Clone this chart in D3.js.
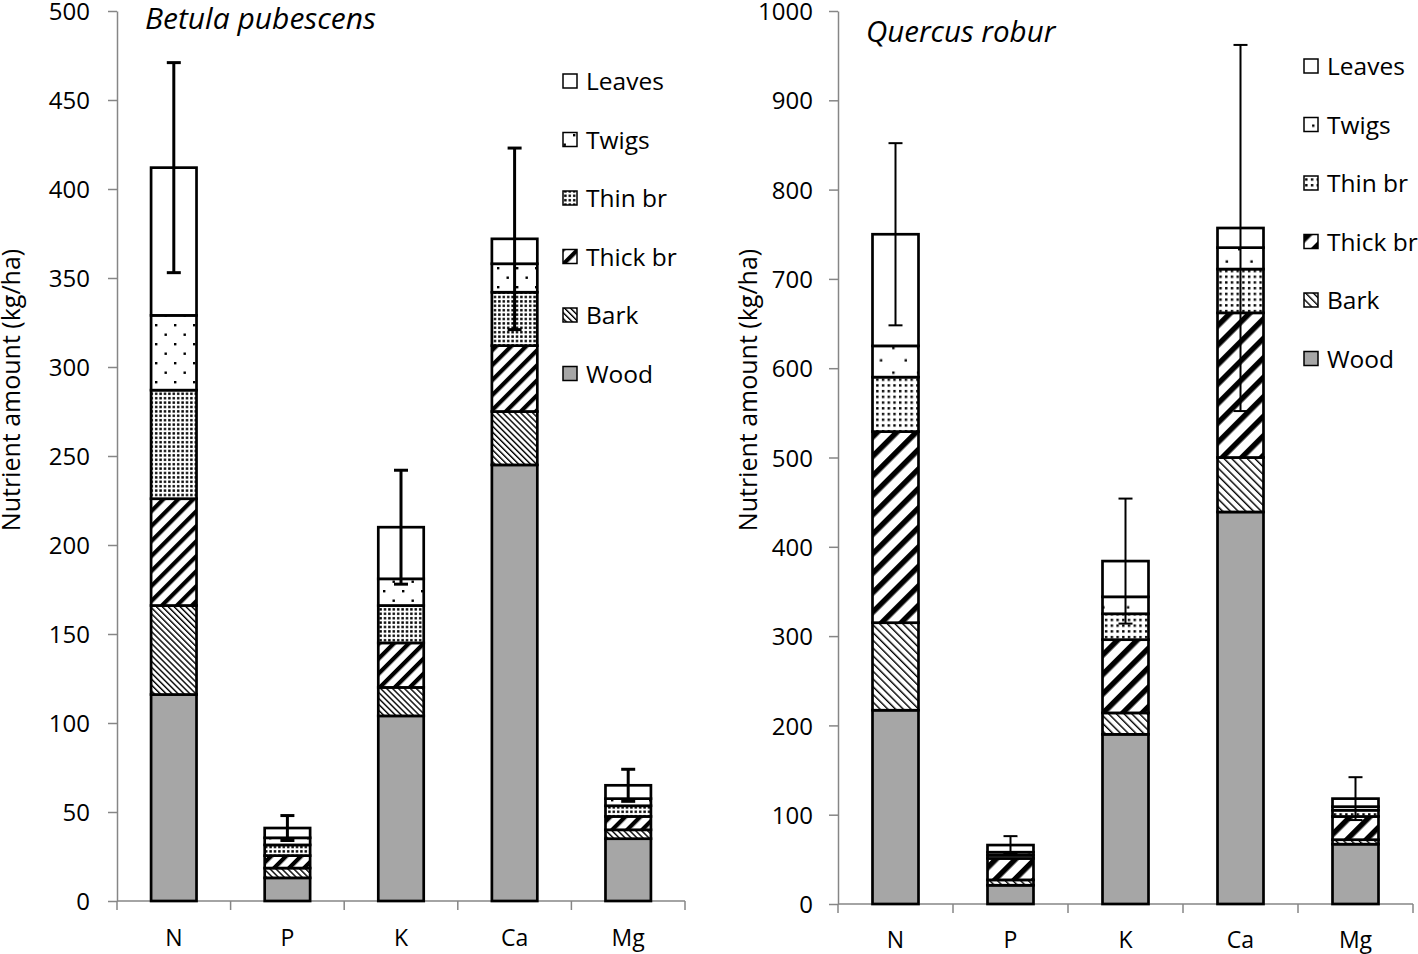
<!DOCTYPE html>
<html><head><meta charset="utf-8">
<script src="https://cdn.jsdelivr.net/npm/d3@7"></script>
<style>body{margin:0;background:#fff}svg{display:block}text{font-family:"Open Sans",sans-serif;fill:#000}</style>
</head><body>
<script>
const categories = ["N","P","K","Ca","Mg"];
const parts = ["Wood","Bark","Thick br","Thin br","Twigs","Leaves"];
const legendOrder = ["Leaves","Twigs","Thin br","Thick br","Bark","Wood"];
const betulaTicks = [0,50,100,150,200,250,300,350,400,450,500];
const quercusTicks = [0,100,200,300,400,500,600,700,800,900,1000];

const betulaWood   = [116, 13, 104, 245, 35];
const betulaBark   = [50, 5.5, 16, 30, 5];
const betulaThick  = [60, 7, 25, 37, 7.5];
const betulaThin   = [61, 6, 21, 30, 6];
const betulaTwigs  = [42, 4, 15, 16, 4];
const betulaLeaves = [83, 5.5, 29, 14, 7.5];
const betulaError  = [59, 7, 32, 51, 9];

const quercusWood   = [217, 21, 190, 439, 67];
const quercusBark   = [98, 6, 24, 61, 5];
const quercusThick  = [214, 24, 82, 162, 26];
const quercusThin   = [61, 3.5, 29, 49, 7];
const quercusTwigs  = [35, 3.5, 19, 24, 4];
const quercusLeaves = [125, 8, 40, 22, 9];
const quercusError  = [102, 10, 70, 205, 24];

function buildTable(arrs, err){
  return categories.map((c,i)=>{
    const row = {cat:c, err:err[i]};
    parts.forEach((p,j)=> row[p] = arrs[j][i]);
    return row;
  });
}

const svg = d3.select("body").append("svg").attr("width",1418).attr("height",954);
const defs = svg.append("defs");

function makePatterns(prefix, s){
  // Twigs: sparse staggered dots
  const tw = 19*s;
  let p = defs.append("pattern").attr("id",prefix+"twigs").attr("patternUnits","userSpaceOnUse")
    .attr("width",tw).attr("height",tw).attr("x",3).attr("y",1);
  p.append("rect").attr("width",tw).attr("height",tw).attr("fill","#fff");
  p.append("rect").attr("x",0).attr("y",0).attr("width",2.4).attr("height",2.4).attr("fill","#000");
  p.append("rect").attr("x",tw/2).attr("y",tw/2).attr("width",2.4).attr("height",2.4).attr("fill","#000");
  // Thin br: dense dots
  p = defs.append("pattern").attr("id",prefix+"thin").attr("patternUnits","userSpaceOnUse")
    .attr("width",4.4*s).attr("height",4.4*s);
  p.append("rect").attr("width",4.4*s).attr("height",4.4*s).attr("fill","#fff");
  p.append("rect").attr("x",1).attr("y",1).attr("width",2.4).attr("height",2.4).attr("fill","#000");
  // Thick br: wide "/" stripes
  const tp = 10.6*s;
  p = defs.append("pattern").attr("id",prefix+"thick").attr("patternUnits","userSpaceOnUse")
    .attr("width",tp).attr("height",tp).attr("patternTransform","rotate(45)");
  p.append("rect").attr("width",tp).attr("height",tp).attr("fill","#fff");
  p.append("rect").attr("width",4.2*s).attr("height",tp).attr("fill","#000");
  // Bark: thin "\" lines
  const bp = 4.2*s;
  p = defs.append("pattern").attr("id",prefix+"bark").attr("patternUnits","userSpaceOnUse")
    .attr("width",bp).attr("height",bp).attr("patternTransform","rotate(-45)");
  p.append("rect").attr("width",bp).attr("height",bp).attr("fill","#fff");
  p.append("rect").attr("width",1.4).attr("height",bp).attr("fill","#000");
}
makePatterns("b_",1);
makePatterns("q_",1.3);

function fillFor(prefix, part){
  return {"Wood":"#a6a6a6","Bark":`url(#${prefix}bark)`,"Thick br":`url(#${prefix}thick)`,
    "Thin br":`url(#${prefix}thin)`,"Twigs":`url(#${prefix}twigs)`,"Leaves":"#fff"}[part];
}

function drawPanel(cfg){
  const data = buildTable(cfg.arrs, cfg.err);
  const g = svg.append("g");
  const x = d3.scaleBand().domain(categories).range([cfg.x0,cfg.x1]).paddingInner(0.6).paddingOuter(0.3);
  const y = d3.scaleLinear().domain([0,cfg.max]).range([cfg.y0,cfg.yTop]);
  const step = (cfg.x1-cfg.x0)/categories.length;

  // y axis
  const ya = g.append("g").attr("transform",`translate(${cfg.x0},0)`)
    .call(d3.axisLeft(y).tickValues(cfg.ticks).tickFormat(d3.format("d"))
      .tickSize(9).tickSizeOuter(0).tickPadding(cfg.tickPad));
  ya.select(".domain").attr("stroke","#868686").attr("stroke-width",1.5);
  ya.selectAll(".tick line").attr("stroke","#868686").attr("stroke-width",1.5);
  ya.selectAll(".tick text").style("font-size","24px").style("font-family","Open Sans").attr("dy","0.36em");

  // x axis
  g.append("line").attr("x1",cfg.x0).attr("x2",cfg.x1).attr("y1",cfg.y0).attr("y2",cfg.y0)
    .attr("stroke","#868686").attr("stroke-width",1.5);
  g.selectAll(".xt").data(d3.range(categories.length+1)).join("line")
    .attr("x1",i=>cfg.x0+i*step).attr("x2",i=>cfg.x0+i*step)
    .attr("y1",cfg.y0).attr("y2",cfg.y0+9).attr("stroke","#868686").attr("stroke-width",1.5);
  g.selectAll(".xl").data(categories).join("text")
    .attr("x",d=>x(d)+x.bandwidth()/2).attr("y",cfg.y0+cfg.labDy)
    .attr("text-anchor","middle").style("font-size","23px").text(d=>d);

  // stacked bars
  const series = d3.stack().keys(parts)(data);
  series.forEach(s=>{
    g.selectAll(null).data(s).join("rect")
      .attr("x",d=>x(d.data.cat)).attr("width",x.bandwidth())
      .attr("y",d=>y(d[1])).attr("height",d=>y(d[0])-y(d[1]))
      .attr("fill",fillFor(cfg.prefix,s.key)).attr("stroke","#000").attr("stroke-width",2.7);
  });

  // error bars
  const cap = 7;
  data.forEach(d=>{
    const tot = d3.sum(parts,p=>d[p]);
    const cx = x(d.cat)+x.bandwidth()/2;
    g.append("line").attr("x1",cx).attr("x2",cx).attr("y1",y(tot+d.err)).attr("y2",y(tot-d.err))
      .attr("stroke","#000").attr("stroke-width",cfg.errW);
    [tot+d.err, tot-d.err].forEach(v=>{
      g.append("line").attr("x1",cx-cap).attr("x2",cx+cap).attr("y1",y(v)).attr("y2",y(v))
        .attr("stroke","#000").attr("stroke-width",cfg.errW);
    });
  });

  // title
  g.append("text").attr("x",cfg.titleX).attr("y",cfg.titleY)
    .style("font-size",cfg.titleSize).style("font-style","italic").text(cfg.title);

  // y label
  g.append("text").attr("transform",`translate(${cfg.labX},${cfg.labY}) rotate(-90)`)
    .attr("text-anchor","middle").style("font-size","25px").text("Nutrient amount (kg/ha)");

  // legend
  legendOrder.forEach((p,i)=>{
    const cy = cfg.legY + i*58.5;
    g.append("rect").attr("x",cfg.legX).attr("y",cy-7).attr("width",14).attr("height",14)
      .attr("fill",fillFor(cfg.prefix,p)).attr("stroke","#000").attr("stroke-width",1.5);
    g.append("text").attr("x",cfg.legX+23).attr("y",cy+9).style("font-size","24.5px").text(p);
  });
}

drawPanel({prefix:"b_", arrs:[betulaWood,betulaBark,betulaThick,betulaThin,betulaTwigs,betulaLeaves],
  err:betulaError, ticks:betulaTicks, max:500, x0:117, x1:685, y0:901, yTop:11, tickPad:18,
  labDy:45, errW:3, title:"Betula pubescens", titleX:145, titleY:29, titleSize:"30px", labX:20, labY:390,
  legX:563, legY:81});
drawPanel({prefix:"q_", arrs:[quercusWood,quercusBark,quercusThick,quercusThin,quercusTwigs,quercusLeaves],
  err:quercusError, ticks:quercusTicks, max:1000, x0:838, x1:1413, y0:904, yTop:11, tickPad:16,
  labDy:44, errW:2, title:"Quercus robur", titleX:866, titleY:42, titleSize:"29.5px", labX:757, labY:390,
  legX:1304, legY:66});
</script>
</body></html>
